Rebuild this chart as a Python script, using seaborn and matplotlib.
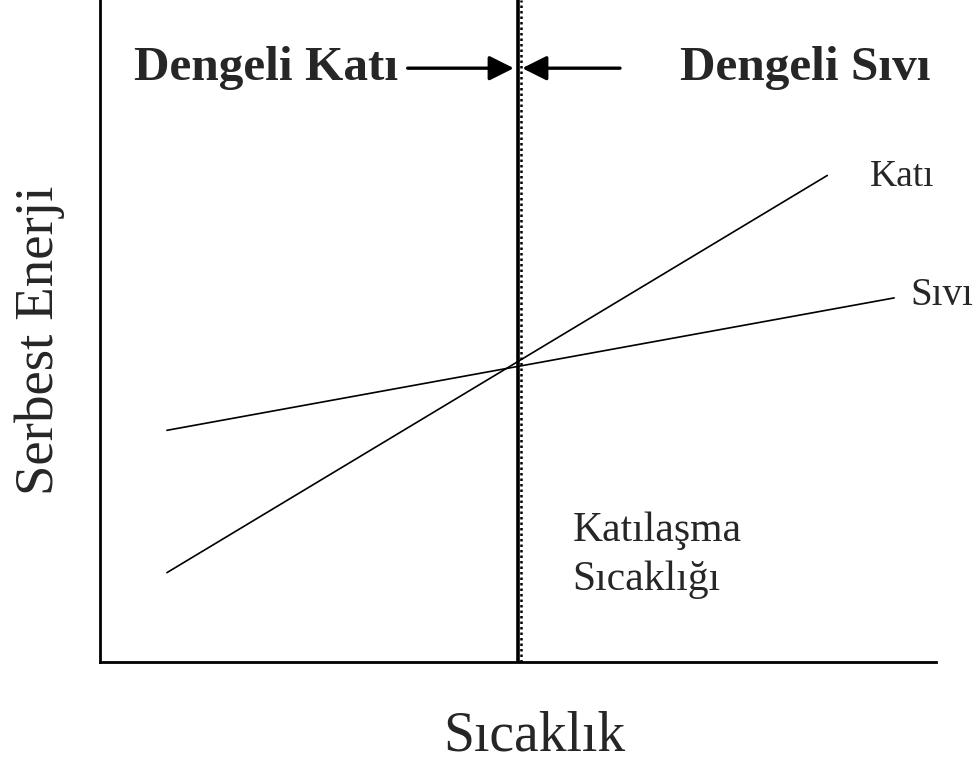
import matplotlib
matplotlib.use("Agg")
import matplotlib.pyplot as plt
import seaborn as sns
import pandas as pd

# Free energy vs. temperature for the solid and liquid phases
temp_kati = [0.8, 8.7]
g_kati = [1.35, 7.35]
temp_sivi = [0.8, 9.5]
g_sivi = [3.5, 5.5]
t_melt = 5.0

phase_labels = ["Katı", "Sıvı"]
region_labels = ["Dengeli Katı", "Dengeli Sıvı"]
melt_label = ["Katılaşma", "Sıcaklığı"]
x_label = "Sıcaklık"
y_label = "Serbest Enerji"

df = pd.DataFrame({
    "T": temp_kati + temp_sivi,
    "G": g_kati + g_sivi,
    "faz": [phase_labels[0]] * len(temp_kati) + [phase_labels[1]] * len(temp_sivi),
})

sns.set_style("white")
plt.rcParams["font.family"] = ["Liberation Serif", "DejaVu Serif"]

fig = plt.figure(figsize=(9.76, 7.62), dpi=100)
ax = fig.add_axes([0.1025, 0.1312, 0.8565, 0.8688])

sns.lineplot(data=df, x="T", y="G", units="faz", estimator=None,
             color="black", lw=1.2, ax=ax, legend=False)

ax.set_xlim(0, 10)
ax.set_ylim(0, 10)
ax.set_xticks([])
ax.set_yticks([])
for side in ["top", "right"]:
    ax.spines[side].set_visible(False)
for side in ["left", "bottom"]:
    ax.spines[side].set_color("black")
    ax.spines[side].set_linewidth(2.0)

# Solidification temperature marker
ax.axvline(t_melt, color="black", lw=2.6, zorder=3)
ax.axvline(t_melt + 0.035, color="black", lw=1.8, ls=(0, (1.0, 1.2)), zorder=3)

# Region arrows pointing to the transition temperature
y_arr = 8.97
arrow_style = dict(arrowstyle="-|>,head_length=1.5,head_width=0.75",
                   color="black", lw=2.4, shrinkA=0, shrinkB=0)
ax.annotate("", xy=(t_melt - 0.05, y_arr), xytext=(3.68, y_arr), arrowprops=arrow_style)
ax.annotate("", xy=(t_melt + 0.05, y_arr), xytext=(6.22, y_arr), arrowprops=arrow_style)

ax.text(3.57, y_arr, region_labels[0], ha="right", va="center",
        fontsize=35.5, fontweight="bold")
ax.text(6.94, y_arr, region_labels[1], ha="left", va="center",
        fontsize=35.5, fontweight="bold", clip_on=False)

ax.text(9.21, 7.33, phase_labels[0], ha="left", va="center", fontsize=27, clip_on=False)
ax.text(9.69, 5.53, phase_labels[1], ha="left", va="center", fontsize=28, clip_on=False)

ax.text(5.65, 1.99, melt_label[0], ha="left", va="center", fontsize=30)
ax.text(5.65, 1.24, melt_label[1], ha="left", va="center", fontsize=30)

ax.set_xlabel(x_label, fontsize=40)
ax.xaxis.label.set_va("center")
ax.xaxis.set_label_coords(0.52, -0.112)
ax.set_ylabel(y_label, fontsize=39.5)
ax.yaxis.label.set_va("center")
ax.yaxis.set_label_coords(-0.072, 0.486)

fig.savefig("out.png", dpi=100)
